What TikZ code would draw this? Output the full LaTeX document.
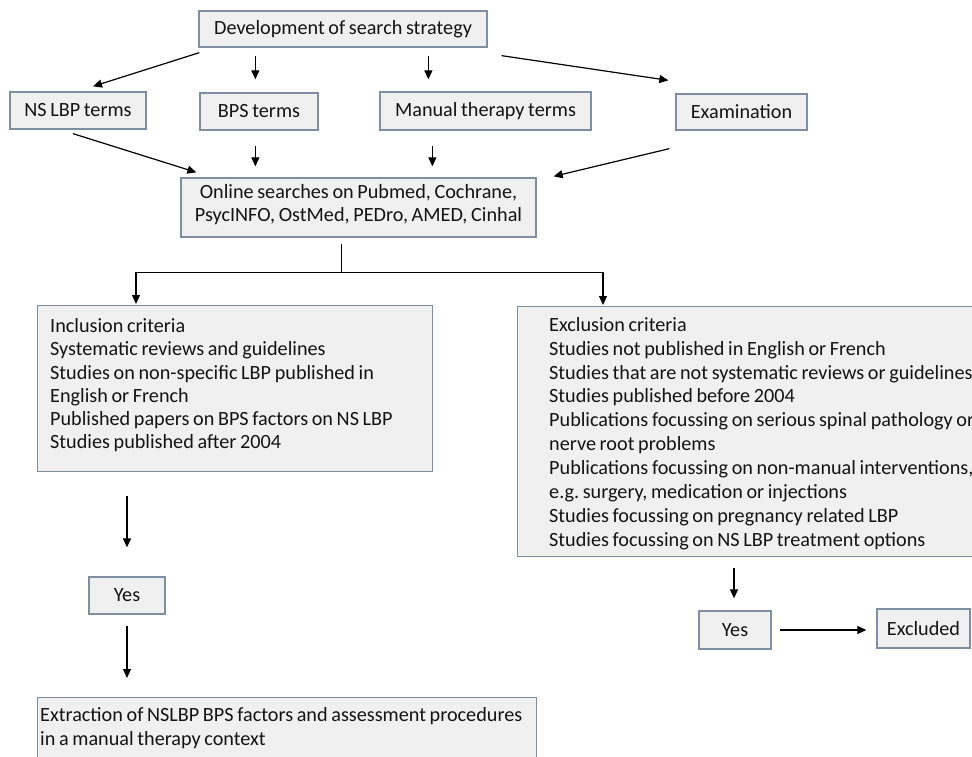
\documentclass[tikz,border=0pt]{standalone}
\usepackage{fontspec}
\setmainfont{Carlito}[WordSpace=0.8]
\usetikzlibrary{arrows.meta,calc}
\definecolor{boxline}{RGB}{128,142,162}
\definecolor{boxfill}{RGB}{240,240,240}
\definecolor{ink}{RGB}{20,20,20}
\frenchspacing
\begin{document}
\begin{tikzpicture}[x=1pt,y=-1pt,
  font=\fontsize{20.2}{23.6}\selectfont,
  box/.style={draw=boxline, fill=boxfill, line width=1.3pt, text=ink,
    inner sep=0pt, align=center},
  panel/.style={box, anchor=north west},
  listtext/.style={anchor=north west, align=left, inner sep=0pt, text=ink,
    execute at begin node=\strut},
  arr/.style={draw=black, line width=1.2pt, -{Triangle[length=9pt,width=8pt]}},
  link/.style={draw=black, line width=1.2pt}]
\path[use as bounding box, clip] (0,0) rectangle (972,756);

% search strategy and term groups
\node[box, minimum width=288pt, minimum height=36pt] (dev) at (343,29) {Development of search strategy};
\node[box, minimum width=136pt, minimum height=37pt] (ns)   at (78,110.5)  {NS LBP terms};
\node[box, minimum width=118pt, minimum height=37pt] (bps)  at (259,111.5) {BPS terms};
\node[box, minimum width=211pt, minimum height=38pt] (man)  at (485.5,111) {Manual therapy terms};
\node[box, minimum width=131pt, minimum height=36pt] (exam) at (741.5,112) {Examination};

% database searches
\node[box, minimum width=355pt, minimum height=59pt] (online) at (358.5,207.5) {};
\node[listtext, align=center, anchor=north, font=\fontsize{20.2}{23}\selectfont] (onlineT)
  at (358.5,184)
  {Online searches on Pubmed, Cochrane,\\PsycINFO, OstMed, PEDro, AMED, Cinhal};

% criteria panels
\node[panel, minimum width=395pt, minimum height=166pt] (incl) at (37,305) {};
\node[listtext, font=\fontsize{20.2}{23.2}\selectfont] (inclT) at (50,318.5)
  {Inclusion criteria\\
   Systematic reviews and guidelines\\
   Studies on non-specific LBP published in\\
   English or French\\
   Published papers on BPS factors on NS LBP\\
   Studies published after 2004};

\node[panel, minimum width=500pt, minimum height=250pt] (excl) at (517,306) {};
\node[listtext, font=\fontsize{20.2}{23.9}\selectfont] (exclT) at (549,317)
  {Exclusion criteria\\
   Studies not published in English or French\\
   Studies that are not systematic reviews or guidelines\\
   Studies published before 2004\\
   Publications focussing on serious spinal pathology or\\
   nerve root problems\\
   Publications focussing on non-manual interventions,\\
   e.g. surgery, medication or injections\\
   Studies focussing on pregnancy related LBP\\
   Studies focussing on NS LBP treatment options};

% outcomes
\node[box, minimum width=76pt, minimum height=37pt] (yesL) at (127,595.5) {Yes};
\node[box, minimum width=72pt, minimum height=38pt] (yesR) at (735,630) {Yes};
\node[box, minimum width=93pt, minimum height=39pt] (exd)  at (923.5,628.5) {Excluded};

\node[panel, minimum width=499pt, minimum height=70pt] (extr) at (37,697) {};
\node[listtext, font=\fontsize{20.2}{24}\selectfont] (extrT) at (40,707.5)
  {Extraction of NSLBP BPS factors and assessment procedures\\
   in a manual therapy context};

% strategy to term groups
\draw[arr] ($(dev.south west)+(1,5)$)   -- ($(ns.north)+(15,-5)$);
\draw[arr] ($(dev.south west)+(57,8)$)  -- ($(bps.north west)+(56,-13)$);
\draw[arr] ($(dev.south west)+(230,8)$) -- ($(man.north west)+(49,-12)$);
\draw[arr] ($(dev.south east)+(14,8)$)  -- ($(exam.north west)+(-7,-13)$);

% term groups to searches
\draw[arr] ($(ns.south)+(-5,4)$)          -- ($(online.north west)+(16,-5)$);
\draw[arr] ($(bps.south west)+(56,15)$)   -- ($(online.north west)+(75,-11)$);
\draw[arr] ($(man.south west)+(53,15)$)   -- ($(online.north west)+(252,-11)$);
\draw[arr] ($(exam.south west)+(-6,18)$)  -- ($(online.north east)+(17,-1)$);

% split into inclusion / exclusion
\coordinate (split) at ($(online.south west)+(161,35)$);
\draw[link] ($(online.south west)+(161,6)$) -- (split);
\draw[arr] (split) -| ($(incl.north west)+(99,-1)$);
\draw[arr] (split) -| ($(excl.north west)+(86,-1)$);

% inclusion branch
\draw[arr] ($(incl.south west)+(90,24)$) -- ($(yesL.north)+(0,-29)$);
\draw[arr] ($(yesL.south)+(0,11)$) -- ($(extr.north west)+(90,-19)$);

% exclusion branch
\draw[arr] ($(excl.south west)+(217,11)$) -- ($(yesR.north)+(-1,-12)$);
\draw[arr] ($(yesR.east)+(8,0)$) -- ($(exd.west)+(-10,1.5)$);
\end{tikzpicture}
\end{document}
